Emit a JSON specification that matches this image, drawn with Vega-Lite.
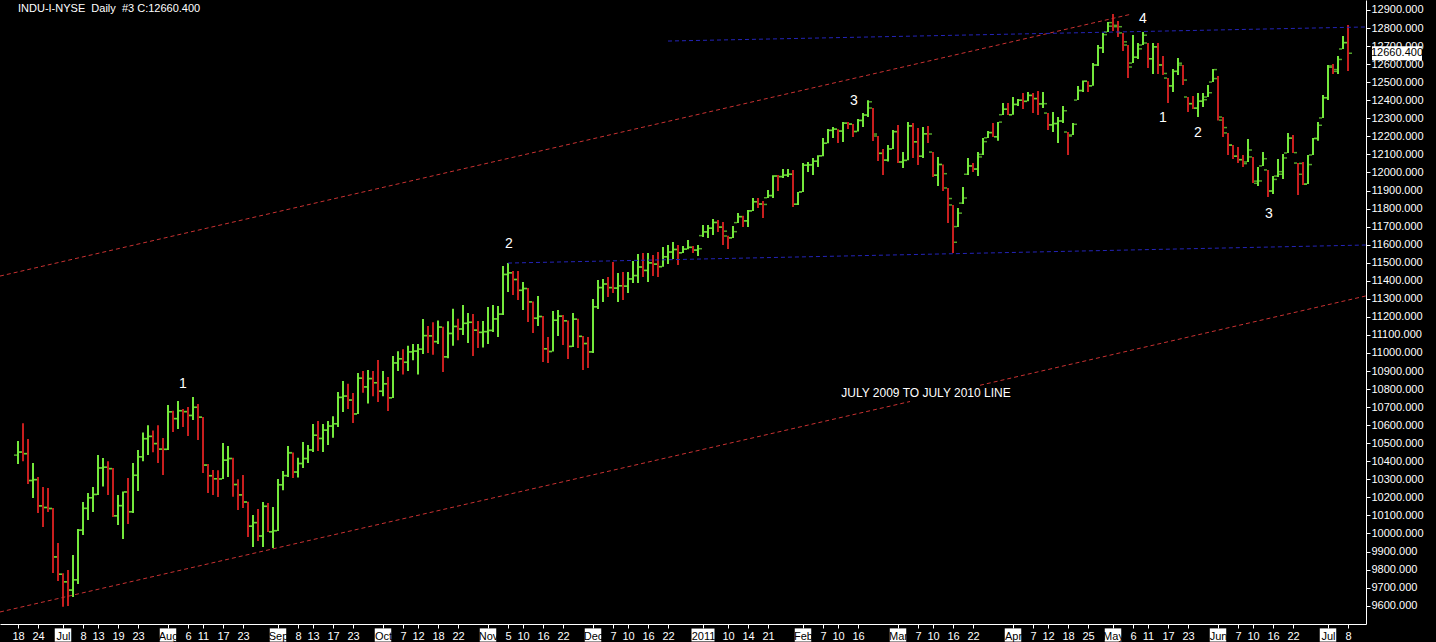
{
"$schema": "https://vega.github.io/schema/vega-lite/v6.json",
"width": 1366, "height": 624,
"autosize": "none",
"padding": {"left": 0, "top": 0, "right": 70, "bottom": 18},
"background": "black",
"config": {"view": {"stroke": null}, "axis": {"labelFont": "Liberation Sans", "grid": false, "title": null}, "text": {"font": "Liberation Sans"}},
"title": {"text": "INDU-I-NYSE\u00a0 Daily\u00a0 #3 C:12660.400", "anchor": "start", "frame": "group", "offset": -14, "dx": 18, "color": "white", "fontSize": 11, "fontWeight": "normal", "font": "Liberation Sans"},
"datasets": {
"bars": [
{"i":0,"d":"2010-06-18","o":10434,"h":10512,"l":10385,"c":10450.6},
{"i":1,"d":"2010-06-21","o":10451,"h":10610,"l":10400,"c":10442.4},
{"i":2,"d":"2010-06-22","o":10442,"h":10523,"l":10274,"c":10293.5},
{"i":3,"d":"2010-06-23","o":10293,"h":10390,"l":10196,"c":10298.4},
{"i":4,"d":"2010-06-24","o":10298,"h":10313,"l":10113,"c":10152.8},
{"i":5,"d":"2010-06-25","o":10153,"h":10257,"l":10036,"c":10143.8},
{"i":6,"d":"2010-06-28","o":10144,"h":10252,"l":10119,"c":10138.5},
{"i":7,"d":"2010-06-29","o":10138,"h":10141,"l":9781,"c":9870.3},
{"i":8,"d":"2010-06-30","o":9870,"h":9947,"l":9737,"c":9774.0},
{"i":9,"d":"2010-07-01","o":9774,"h":9780,"l":9594,"c":9732.5},
{"i":10,"d":"2010-07-02","o":9732,"h":9798,"l":9598,"c":9686.5},
{"i":11,"d":"2010-07-06","o":9686,"h":9881,"l":9648,"c":9743.6},
{"i":12,"d":"2010-07-07","o":9743,"h":10025,"l":9720,"c":10018.3},
{"i":13,"d":"2010-07-08","o":10018,"h":10174,"l":9991,"c":10139.0},
{"i":14,"d":"2010-07-09","o":10139,"h":10224,"l":10075,"c":10198.0},
{"i":15,"d":"2010-07-12","o":10198,"h":10257,"l":10119,"c":10216.3},
{"i":16,"d":"2010-07-13","o":10216,"h":10435,"l":10213,"c":10363.0},
{"i":17,"d":"2010-07-14","o":10363,"h":10418,"l":10260,"c":10366.7},
{"i":18,"d":"2010-07-15","o":10367,"h":10400,"l":10213,"c":10359.3},
{"i":19,"d":"2010-07-16","o":10359,"h":10362,"l":10091,"c":10097.9},
{"i":20,"d":"2010-07-19","o":10098,"h":10213,"l":10047,"c":10154.4},
{"i":21,"d":"2010-07-20","o":10154,"h":10232,"l":9969,"c":10230.0},
{"i":22,"d":"2010-07-21","o":10230,"h":10307,"l":10053,"c":10120.5},
{"i":23,"d":"2010-07-22","o":10120,"h":10390,"l":10113,"c":10322.3},
{"i":24,"d":"2010-07-23","o":10322,"h":10462,"l":10235,"c":10424.6},
{"i":25,"d":"2010-07-26","o":10425,"h":10560,"l":10400,"c":10525.4},
{"i":26,"d":"2010-07-27","o":10525,"h":10600,"l":10435,"c":10537.7},
{"i":27,"d":"2010-07-28","o":10538,"h":10570,"l":10450,"c":10497.9},
{"i":28,"d":"2010-07-29","o":10498,"h":10600,"l":10390,"c":10467.2},
{"i":29,"d":"2010-07-30","o":10467,"h":10529,"l":10324,"c":10465.9},
{"i":30,"d":"2010-08-02","o":10466,"h":10712,"l":10462,"c":10674.4},
{"i":31,"d":"2010-08-03","o":10674,"h":10680,"l":10562,"c":10636.4},
{"i":32,"d":"2010-08-04","o":10636,"h":10734,"l":10579,"c":10680.4},
{"i":33,"d":"2010-08-05","o":10680,"h":10690,"l":10590,"c":10675.0},
{"i":34,"d":"2010-08-06","o":10675,"h":10700,"l":10540,"c":10653.6},
{"i":35,"d":"2010-08-09","o":10654,"h":10756,"l":10629,"c":10698.8},
{"i":36,"d":"2010-08-10","o":10699,"h":10717,"l":10518,"c":10644.3},
{"i":37,"d":"2010-08-11","o":10644,"h":10645,"l":10335,"c":10378.8},
{"i":38,"d":"2010-08-12","o":10379,"h":10385,"l":10224,"c":10320.0},
{"i":39,"d":"2010-08-13","o":10320,"h":10352,"l":10213,"c":10303.2},
{"i":40,"d":"2010-08-16","o":10303,"h":10350,"l":10202,"c":10302.0},
{"i":41,"d":"2010-08-17","o":10302,"h":10501,"l":10302,"c":10405.9},
{"i":42,"d":"2010-08-18","o":10406,"h":10485,"l":10313,"c":10415.5},
{"i":43,"d":"2010-08-19","o":10415,"h":10420,"l":10204,"c":10271.2},
{"i":44,"d":"2010-08-20","o":10271,"h":10300,"l":10130,"c":10213.6},
{"i":45,"d":"2010-08-23","o":10214,"h":10324,"l":10141,"c":10174.4},
{"i":46,"d":"2010-08-24","o":10174,"h":10175,"l":9981,"c":10040.5},
{"i":47,"d":"2010-08-25","o":10040,"h":10102,"l":9925,"c":10060.1},
{"i":48,"d":"2010-08-26","o":10060,"h":10136,"l":9958,"c":9985.8},
{"i":49,"d":"2010-08-27","o":9986,"h":10174,"l":9925,"c":10150.7},
{"i":50,"d":"2010-08-30","o":10150,"h":10169,"l":10008,"c":10009.7},
{"i":51,"d":"2010-08-31","o":10009,"h":10147,"l":9919,"c":10014.7},
{"i":52,"d":"2010-09-01","o":10016,"h":10302,"l":10014,"c":10269.5},
{"i":53,"d":"2010-09-02","o":10270,"h":10346,"l":10240,"c":10320.1},
{"i":54,"d":"2010-09-03","o":10321,"h":10485,"l":10313,"c":10447.9},
{"i":55,"d":"2010-09-07","o":10446,"h":10448,"l":10307,"c":10340.7},
{"i":56,"d":"2010-09-08","o":10340,"h":10420,"l":10310,"c":10387.0},
{"i":57,"d":"2010-09-09","o":10388,"h":10507,"l":10363,"c":10415.2},
{"i":58,"d":"2010-09-10","o":10415,"h":10490,"l":10390,"c":10462.8},
{"i":59,"d":"2010-09-13","o":10463,"h":10606,"l":10451,"c":10544.1},
{"i":60,"d":"2010-09-14","o":10544,"h":10623,"l":10457,"c":10526.5},
{"i":61,"d":"2010-09-15","o":10526,"h":10606,"l":10451,"c":10572.7},
{"i":62,"d":"2010-09-16","o":10572,"h":10623,"l":10490,"c":10594.8},
{"i":63,"d":"2010-09-17","o":10595,"h":10650,"l":10530,"c":10607.9},
{"i":64,"d":"2010-09-20","o":10608,"h":10784,"l":10590,"c":10753.6},
{"i":65,"d":"2010-09-21","o":10754,"h":10845,"l":10673,"c":10761.0},
{"i":66,"d":"2010-09-22","o":10761,"h":10830,"l":10690,"c":10739.3},
{"i":67,"d":"2010-09-23","o":10739,"h":10778,"l":10612,"c":10662.4},
{"i":68,"d":"2010-09-24","o":10662,"h":10889,"l":10662,"c":10860.3},
{"i":69,"d":"2010-09-27","o":10860,"h":10900,"l":10780,"c":10812.0},
{"i":70,"d":"2010-09-28","o":10812,"h":10905,"l":10720,"c":10858.1},
{"i":71,"d":"2010-09-29","o":10858,"h":10900,"l":10760,"c":10835.3},
{"i":72,"d":"2010-09-30","o":10835,"h":10961,"l":10728,"c":10788.0},
{"i":73,"d":"2010-10-01","o":10788,"h":10900,"l":10760,"c":10829.7},
{"i":74,"d":"2010-10-04","o":10829,"h":10867,"l":10679,"c":10751.3},
{"i":75,"d":"2010-10-05","o":10752,"h":10983,"l":10750,"c":10944.7},
{"i":76,"d":"2010-10-06","o":10945,"h":11010,"l":10900,"c":10967.7},
{"i":77,"d":"2010-10-07","o":10968,"h":11020,"l":10880,"c":10948.6},
{"i":78,"d":"2010-10-08","o":10948,"h":11040,"l":10900,"c":11006.5},
{"i":79,"d":"2010-10-11","o":11006,"h":11050,"l":10960,"c":11010.3},
{"i":80,"d":"2010-10-12","o":11010,"h":11050,"l":10880,"c":11020.4},
{"i":81,"d":"2010-10-13","o":11021,"h":11188,"l":10994,"c":11096.1},
{"i":82,"d":"2010-10-14","o":11096,"h":11150,"l":11000,"c":11094.6},
{"i":83,"d":"2010-10-15","o":11095,"h":11170,"l":10990,"c":11062.8},
{"i":84,"d":"2010-10-18","o":11063,"h":11180,"l":11050,"c":11143.7},
{"i":85,"d":"2010-10-19","o":11143,"h":11145,"l":10894,"c":10978.6},
{"i":86,"d":"2010-10-20","o":10979,"h":11175,"l":10970,"c":11108.0},
{"i":87,"d":"2010-10-21","o":11108,"h":11245,"l":11040,"c":11146.6},
{"i":88,"d":"2010-10-22","o":11147,"h":11190,"l":11070,"c":11132.6},
{"i":89,"d":"2010-10-25","o":11133,"h":11266,"l":11100,"c":11164.1},
{"i":90,"d":"2010-10-26","o":11164,"h":11221,"l":11055,"c":11169.5},
{"i":91,"d":"2010-10-27","o":11170,"h":11216,"l":10983,"c":11126.3},
{"i":92,"d":"2010-10-28","o":11126,"h":11177,"l":11027,"c":11114.0},
{"i":93,"d":"2010-10-29","o":11114,"h":11177,"l":11030,"c":11118.5},
{"i":94,"d":"2010-11-01","o":11118,"h":11255,"l":11050,"c":11124.6},
{"i":95,"d":"2010-11-02","o":11125,"h":11266,"l":11116,"c":11188.7},
{"i":96,"d":"2010-11-03","o":11189,"h":11260,"l":11088,"c":11215.1},
{"i":97,"d":"2010-11-04","o":11215,"h":11482,"l":11210,"c":11434.8},
{"i":98,"d":"2010-11-05","o":11435,"h":11498,"l":11338,"c":11444.1},
{"i":99,"d":"2010-11-08","o":11444,"h":11454,"l":11321,"c":11406.8},
{"i":100,"d":"2010-11-09","o":11407,"h":11454,"l":11293,"c":11346.8},
{"i":101,"d":"2010-11-10","o":11347,"h":11393,"l":11238,"c":11357.0},
{"i":102,"d":"2010-11-11","o":11357,"h":11360,"l":11172,"c":11283.1},
{"i":103,"d":"2010-11-12","o":11283,"h":11285,"l":11110,"c":11192.6},
{"i":104,"d":"2010-11-15","o":11192,"h":11316,"l":11150,"c":11202.0},
{"i":105,"d":"2010-11-16","o":11202,"h":11205,"l":10950,"c":11023.5},
{"i":106,"d":"2010-11-17","o":11023,"h":11089,"l":10944,"c":11007.9},
{"i":107,"d":"2010-11-18","o":11008,"h":11233,"l":11008,"c":11181.2},
{"i":108,"d":"2010-11-19","o":11181,"h":11238,"l":11094,"c":11203.6},
{"i":109,"d":"2010-11-22","o":11204,"h":11210,"l":11044,"c":11178.6},
{"i":110,"d":"2010-11-23","o":11178,"h":11180,"l":10967,"c":11036.4},
{"i":111,"d":"2010-11-24","o":11036,"h":11221,"l":11033,"c":11187.3},
{"i":112,"d":"2010-11-26","o":11187,"h":11190,"l":11027,"c":11092.0},
{"i":113,"d":"2010-11-29","o":11092,"h":11094,"l":10906,"c":11052.5},
{"i":114,"d":"2010-11-30","o":11052,"h":11089,"l":10917,"c":11006.0},
{"i":115,"d":"2010-12-01","o":11006,"h":11299,"l":11000,"c":11255.8},
{"i":116,"d":"2010-12-02","o":11256,"h":11404,"l":11244,"c":11362.4},
{"i":117,"d":"2010-12-03","o":11362,"h":11410,"l":11282,"c":11382.1},
{"i":118,"d":"2010-12-06","o":11382,"h":11421,"l":11310,"c":11362.2},
{"i":119,"d":"2010-12-07","o":11362,"h":11504,"l":11332,"c":11359.2},
{"i":120,"d":"2010-12-08","o":11359,"h":11443,"l":11282,"c":11372.5},
{"i":121,"d":"2010-12-09","o":11372,"h":11448,"l":11293,"c":11370.1},
{"i":122,"d":"2010-12-10","o":11370,"h":11448,"l":11332,"c":11410.3},
{"i":123,"d":"2010-12-13","o":11410,"h":11509,"l":11388,"c":11428.6},
{"i":124,"d":"2010-12-14","o":11429,"h":11548,"l":11388,"c":11476.5},
{"i":125,"d":"2010-12-15","o":11476,"h":11554,"l":11421,"c":11457.5},
{"i":126,"d":"2010-12-16","o":11457,"h":11554,"l":11393,"c":11499.3},
{"i":127,"d":"2010-12-17","o":11499,"h":11543,"l":11426,"c":11491.9},
{"i":128,"d":"2010-12-20","o":11492,"h":11559,"l":11421,"c":11478.1},
{"i":129,"d":"2010-12-21","o":11478,"h":11587,"l":11478,"c":11533.2},
{"i":130,"d":"2010-12-22","o":11533,"h":11598,"l":11493,"c":11559.5},
{"i":131,"d":"2010-12-23","o":11559,"h":11615,"l":11521,"c":11573.5},
{"i":132,"d":"2010-12-27","o":11573,"h":11598,"l":11487,"c":11555.0},
{"i":133,"d":"2010-12-28","o":11555,"h":11593,"l":11554,"c":11575.5},
{"i":134,"d":"2010-12-29","o":11575,"h":11626,"l":11575,"c":11585.4},
{"i":135,"d":"2010-12-30","o":11585,"h":11593,"l":11554,"c":11569.7},
{"i":136,"d":"2010-12-31","o":11570,"h":11598,"l":11537,"c":11577.5},
{"i":137,"d":"2011-01-03","o":11650,"h":11709,"l":11642,"c":11670.8},
{"i":138,"d":"2011-01-04","o":11671,"h":11709,"l":11637,"c":11691.2},
{"i":139,"d":"2011-01-05","o":11691,"h":11742,"l":11653,"c":11722.9},
{"i":140,"d":"2011-01-06","o":11723,"h":11737,"l":11670,"c":11697.3},
{"i":141,"d":"2011-01-07","o":11697,"h":11726,"l":11598,"c":11674.8},
{"i":142,"d":"2011-01-10","o":11648,"h":11650,"l":11576,"c":11637.5},
{"i":143,"d":"2011-01-11","o":11638,"h":11703,"l":11637,"c":11671.9},
{"i":144,"d":"2011-01-12","o":11722,"h":11775,"l":11720,"c":11755.4},
{"i":145,"d":"2011-01-13","o":11755,"h":11760,"l":11698,"c":11731.9},
{"i":146,"d":"2011-01-14","o":11732,"h":11792,"l":11698,"c":11787.4},
{"i":147,"d":"2011-01-18","o":11787,"h":11859,"l":11786,"c":11837.9},
{"i":148,"d":"2011-01-19","o":11838,"h":11859,"l":11803,"c":11825.3},
{"i":149,"d":"2011-01-20","o":11825,"h":11842,"l":11748,"c":11822.8},
{"i":150,"d":"2011-01-21","o":11860,"h":11903,"l":11859,"c":11871.8},
{"i":151,"d":"2011-01-24","o":11872,"h":11985,"l":11859,"c":11980.5},
{"i":152,"d":"2011-01-25","o":11980,"h":11986,"l":11897,"c":11977.2},
{"i":153,"d":"2011-01-26","o":11977,"h":12019,"l":11969,"c":11985.4},
{"i":154,"d":"2011-01-27","o":11985,"h":12019,"l":11975,"c":11989.8},
{"i":155,"d":"2011-01-28","o":11990,"h":12014,"l":11809,"c":11823.7},
{"i":156,"d":"2011-01-31","o":11824,"h":11892,"l":11820,"c":11891.9},
{"i":157,"d":"2011-02-01","o":11892,"h":12052,"l":11892,"c":12040.2},
{"i":158,"d":"2011-02-02","o":12040,"h":12058,"l":12003,"c":12042.0},
{"i":159,"d":"2011-02-03","o":12042,"h":12080,"l":11986,"c":12062.3},
{"i":160,"d":"2011-02-04","o":12062,"h":12095,"l":12030,"c":12092.2},
{"i":161,"d":"2011-02-07","o":12092,"h":12191,"l":12090,"c":12161.6},
{"i":162,"d":"2011-02-08","o":12162,"h":12241,"l":12162,"c":12233.2},
{"i":163,"d":"2011-02-09","o":12233,"h":12252,"l":12191,"c":12239.9},
{"i":164,"d":"2011-02-10","o":12240,"h":12240,"l":12163,"c":12229.3},
{"i":165,"d":"2011-02-11","o":12229,"h":12280,"l":12169,"c":12273.3},
{"i":166,"d":"2011-02-14","o":12273,"h":12280,"l":12241,"c":12268.2},
{"i":167,"d":"2011-02-15","o":12268,"h":12268,"l":12197,"c":12226.6},
{"i":168,"d":"2011-02-16","o":12227,"h":12296,"l":12227,"c":12288.2},
{"i":169,"d":"2011-02-17","o":12288,"h":12329,"l":12252,"c":12318.1},
{"i":170,"d":"2011-02-18","o":12318,"h":12400,"l":12307,"c":12391.3},
{"i":171,"d":"2011-02-22","o":12357,"h":12357,"l":12174,"c":12212.8},
{"i":172,"d":"2011-02-23","o":12202,"h":12202,"l":12063,"c":12105.8},
{"i":173,"d":"2011-02-24","o":12106,"h":12130,"l":11986,"c":12068.5},
{"i":174,"d":"2011-02-25","o":12068,"h":12152,"l":12060,"c":12130.5},
{"i":175,"d":"2011-02-28","o":12130,"h":12235,"l":12130,"c":12226.3},
{"i":176,"d":"2011-03-01","o":12226,"h":12263,"l":12052,"c":12058.0},
{"i":177,"d":"2011-03-02","o":12058,"h":12113,"l":12025,"c":12066.8},
{"i":178,"d":"2011-03-03","o":12067,"h":12280,"l":12067,"c":12258.2},
{"i":179,"d":"2011-03-04","o":12258,"h":12274,"l":12080,"c":12169.9},
{"i":180,"d":"2011-03-07","o":12170,"h":12246,"l":12041,"c":12090.0},
{"i":181,"d":"2011-03-08","o":12090,"h":12252,"l":12080,"c":12214.4},
{"i":182,"d":"2011-03-09","o":12214,"h":12257,"l":12163,"c":12213.1},
{"i":183,"d":"2011-03-10","o":12113,"h":12113,"l":11975,"c":11984.6},
{"i":184,"d":"2011-03-11","o":11985,"h":12086,"l":11925,"c":12044.4},
{"i":185,"d":"2011-03-14","o":12044,"h":12044,"l":11897,"c":11993.2},
{"i":186,"d":"2011-03-15","o":11914,"h":11914,"l":11720,"c":11855.4},
{"i":187,"d":"2011-03-16","o":11820,"h":11820,"l":11554,"c":11613.3},
{"i":188,"d":"2011-03-17","o":11700,"h":11803,"l":11698,"c":11774.6},
{"i":189,"d":"2011-03-18","o":11830,"h":11920,"l":11825,"c":11858.5},
{"i":190,"d":"2011-03-21","o":11990,"h":12080,"l":11986,"c":12036.5},
{"i":191,"d":"2011-03-22","o":12036,"h":12052,"l":12003,"c":12018.6},
{"i":192,"d":"2011-03-23","o":12019,"h":12113,"l":11980,"c":12086.0},
{"i":193,"d":"2011-03-24","o":12100,"h":12191,"l":12097,"c":12170.6},
{"i":194,"d":"2011-03-25","o":12192,"h":12230,"l":12191,"c":12220.6},
{"i":195,"d":"2011-03-28","o":12221,"h":12274,"l":12197,"c":12197.9},
{"i":196,"d":"2011-03-29","o":12198,"h":12280,"l":12175,"c":12279.0},
{"i":197,"d":"2011-03-30","o":12320,"h":12385,"l":12318,"c":12350.6},
{"i":198,"d":"2011-03-31","o":12350,"h":12385,"l":12318,"c":12319.7},
{"i":199,"d":"2011-04-01","o":12320,"h":12418,"l":12320,"c":12376.7},
{"i":200,"d":"2011-04-04","o":12377,"h":12407,"l":12368,"c":12400.0},
{"i":201,"d":"2011-04-05","o":12400,"h":12440,"l":12351,"c":12393.9},
{"i":202,"d":"2011-04-06","o":12394,"h":12446,"l":12394,"c":12426.8},
{"i":203,"d":"2011-04-07","o":12427,"h":12440,"l":12329,"c":12409.5},
{"i":204,"d":"2011-04-08","o":12409,"h":12451,"l":12318,"c":12380.0},
{"i":205,"d":"2011-04-11","o":12380,"h":12446,"l":12357,"c":12381.1},
{"i":206,"d":"2011-04-12","o":12329,"h":12329,"l":12235,"c":12263.6},
{"i":207,"d":"2011-04-13","o":12264,"h":12335,"l":12224,"c":12271.0},
{"i":208,"d":"2011-04-14","o":12271,"h":12307,"l":12163,"c":12285.2},
{"i":209,"d":"2011-04-15","o":12285,"h":12368,"l":12274,"c":12341.8},
{"i":210,"d":"2011-04-18","o":12224,"h":12224,"l":12097,"c":12201.6},
{"i":211,"d":"2011-04-19","o":12208,"h":12274,"l":12208,"c":12266.8},
{"i":212,"d":"2011-04-20","o":12401,"h":12479,"l":12401,"c":12453.5},
{"i":213,"d":"2011-04-21","o":12454,"h":12510,"l":12446,"c":12506.0},
{"i":214,"d":"2011-04-25","o":12505,"h":12505,"l":12446,"c":12479.9},
{"i":215,"d":"2011-04-26","o":12480,"h":12606,"l":12480,"c":12595.4},
{"i":216,"d":"2011-04-27","o":12595,"h":12706,"l":12590,"c":12691.0},
{"i":217,"d":"2011-04-28","o":12691,"h":12773,"l":12662,"c":12763.3},
{"i":218,"d":"2011-04-29","o":12778,"h":12834,"l":12778,"c":12810.5},
{"i":219,"d":"2011-05-02","o":12830,"h":12878,"l":12784,"c":12807.4},
{"i":220,"d":"2011-05-03","o":12815,"h":12839,"l":12750,"c":12807.5},
{"i":221,"d":"2011-05-04","o":12773,"h":12773,"l":12673,"c":12723.6},
{"i":222,"d":"2011-05-05","o":12706,"h":12706,"l":12523,"c":12584.2},
{"i":223,"d":"2011-05-06","o":12606,"h":12761,"l":12606,"c":12638.7},
{"i":224,"d":"2011-05-09","o":12638,"h":12717,"l":12628,"c":12684.7},
{"i":225,"d":"2011-05-10","o":12706,"h":12778,"l":12706,"c":12760.4},
{"i":226,"d":"2011-05-11","o":12717,"h":12717,"l":12579,"c":12630.0},
{"i":227,"d":"2011-05-12","o":12630,"h":12717,"l":12545,"c":12695.9},
{"i":228,"d":"2011-05-13","o":12696,"h":12717,"l":12545,"c":12595.8},
{"i":229,"d":"2011-05-16","o":12595,"h":12645,"l":12540,"c":12548.4},
{"i":230,"d":"2011-05-17","o":12523,"h":12523,"l":12385,"c":12479.6},
{"i":231,"d":"2011-05-18","o":12480,"h":12573,"l":12446,"c":12560.2},
{"i":232,"d":"2011-05-19","o":12560,"h":12634,"l":12540,"c":12605.3},
{"i":233,"d":"2011-05-20","o":12595,"h":12595,"l":12485,"c":12512.0},
{"i":234,"d":"2011-05-23","o":12418,"h":12418,"l":12335,"c":12381.3},
{"i":235,"d":"2011-05-24","o":12381,"h":12424,"l":12351,"c":12356.2},
{"i":236,"d":"2011-05-25","o":12356,"h":12440,"l":12307,"c":12394.7},
{"i":237,"d":"2011-05-26","o":12395,"h":12440,"l":12363,"c":12402.8},
{"i":238,"d":"2011-05-27","o":12418,"h":12485,"l":12418,"c":12441.6},
{"i":239,"d":"2011-05-31","o":12501,"h":12573,"l":12501,"c":12569.8},
{"i":240,"d":"2011-06-01","o":12520,"h":12534,"l":12288,"c":12290.1},
{"i":241,"d":"2011-06-02","o":12307,"h":12307,"l":12197,"c":12248.6},
{"i":242,"d":"2011-06-03","o":12219,"h":12219,"l":12097,"c":12151.3},
{"i":243,"d":"2011-06-06","o":12152,"h":12152,"l":12075,"c":12090.0},
{"i":244,"d":"2011-06-07","o":12090,"h":12141,"l":12052,"c":12070.8},
{"i":245,"d":"2011-06-08","o":12071,"h":12097,"l":12030,"c":12048.9},
{"i":246,"d":"2011-06-09","o":12058,"h":12185,"l":12058,"c":12124.4},
{"i":247,"d":"2011-06-10","o":12086,"h":12086,"l":11942,"c":11951.9},
{"i":248,"d":"2011-06-13","o":11940,"h":12030,"l":11925,"c":11953.0},
{"i":249,"d":"2011-06-14","o":12036,"h":12113,"l":12036,"c":12076.1},
{"i":250,"d":"2011-06-15","o":12014,"h":12014,"l":11864,"c":11897.3},
{"i":251,"d":"2011-06-16","o":11897,"h":11980,"l":11881,"c":11961.5},
{"i":252,"d":"2011-06-17","o":11980,"h":12075,"l":11975,"c":12004.4},
{"i":253,"d":"2011-06-20","o":11990,"h":12102,"l":11964,"c":12080.4},
{"i":254,"d":"2011-06-21","o":12108,"h":12219,"l":12108,"c":12190.0},
{"i":255,"d":"2011-06-22","o":12190,"h":12208,"l":12108,"c":12109.7},
{"i":256,"d":"2011-06-23","o":12052,"h":12052,"l":11875,"c":11990.0},
{"i":257,"d":"2011-06-24","o":12050,"h":12058,"l":11930,"c":11934.6},
{"i":258,"d":"2011-06-27","o":11936,"h":12097,"l":11936,"c":12043.6},
{"i":259,"d":"2011-06-28","o":12097,"h":12191,"l":12097,"c":12188.7},
{"i":260,"d":"2011-06-29","o":12188,"h":12280,"l":12175,"c":12261.4},
{"i":261,"d":"2011-06-30","o":12302,"h":12429,"l":12302,"c":12414.3},
{"i":262,"d":"2011-07-01","o":12414,"h":12595,"l":12401,"c":12582.8},
{"i":263,"d":"2011-07-05","o":12590,"h":12601,"l":12545,"c":12569.9},
{"i":264,"d":"2011-07-06","o":12560,"h":12645,"l":12545,"c":12626.0},
{"i":265,"d":"2011-07-07","o":12684,"h":12756,"l":12684,"c":12719.5},
{"i":266,"d":"2011-07-08","o":12719,"h":12817,"l":12562,"c":12660.4}
],
"lines": [
{"seg":"upper","kind":"channel","i":-3.6,"v":11426},
{"seg":"upper","kind":"channel","i":222.8,"v":12878},
{"seg":"lower1","kind":"channel","i":-3.6,"v":9565},
{"seg":"lower1","kind":"channel","i":178.4,"v":10731},
{"seg":"lower2","kind":"channel","i":192.4,"v":10821},
{"seg":"lower2","kind":"channel","i":269.6,"v":11316},
{"seg":"top","kind":"level","i":130,"v":12728},
{"seg":"top","kind":"level","i":269.6,"v":12806},
{"seg":"base","kind":"level","i":98,"v":11498},
{"seg":"base","kind":"level","i":269.6,"v":11598}
],
"notes": [
{"i":33,"v":10828,"t":"1"},
{"i":98.2,"v":11604,"t":"2"},
{"i":167.2,"v":12396,"t":"3"},
{"i":225,"v":12850,"t":"4"},
{"i":229,"v":12302,"t":"1"},
{"i":236,"v":12219,"t":"2"},
{"i":250.2,"v":11770,"t":"3"},
{"i":181.6,"v":10778,"t":"JULY 2009 TO JULY 2010 LINE"}
],
"months": [{"i":9},{"i":30},{"i":52},{"i":73},{"i":94},{"i":115},{"i":137},{"i":157},{"i":176},{"i":199},{"i":219},{"i":240},{"i":262}],
"last": [{"i":266,"v":12660.4,"t":"12660.400"}]
},
"encoding": {
"x": {"field": "i", "type": "quantitative", "scale": {"domain": [-3.6, 269.6], "nice": false, "zero": false},
 "axis": {"orient": "bottom", "title": null, "grid": false, "zindex": 1,
  "values": [0,4,9,13,16,20,24,30,34,37,41,45,52,56,59,63,67,73,77,80,84,88,94,98,101,105,109,115,119,122,126,130,137,142,146,150,157,161,164,168,176,180,183,187,191,199,203,206,210,214,219,223,226,230,234,240,244,247,251,255,262,266],
  "labelExpr": "['18','24','Jul','8','13','19','23','Aug','6','11','17','23','Sep','8','13','17','23','Oct','7','12','18','22','Nov','5','10','16','22','Dec','7','10','16','22','2011','10','14','21','Feb','7','10','16','Mar','7','10','16','22','Apr','7','12','18','25','May','6','11','17','23','Jun','7','10','16','22','Jul','8'][indexof([0,4,9,13,16,20,24,30,34,37,41,45,52,56,59,63,67,73,77,80,84,88,94,98,101,105,109,115,119,122,126,130,137,142,146,150,157,161,164,168,176,180,183,187,191,199,203,206,210,214,219,223,226,230,234,240,244,247,251,255,262,266], datum.value)]",
  "labelColor": {"condition": {"test": "indexof([9,30,52,73,94,115,137,157,176,199,219,240,262], datum.value) >= 0", "value": "black"}, "value": "white"},
  "labelFontSize": 11, "labelPadding": 2, "labelOverlap": false, "labelFlush": false,
  "domainColor": "white", "tickColor": "white", "tickSize": 4}}
},
"layer": [
{
"data": {"name": "bars"},
"mark": {"type": "rule", "strokeWidth": 2},
"encoding": {
"y": {"field": "l", "type": "quantitative", "scale": {"domain": [9498.4, 12955.4], "nice": false, "zero": false},
 "axis": {"orient": "right", "title": null, "grid": false, "zindex": 0, "values": [9600,9700,9800,9900,10000,10100,10200,10300,10400,10500,10600,10700,10800,10900,11000,11100,11200,11300,11400,11500,11600,11700,11800,11900,12000,12100,12200,12300,12400,12500,12600,12700,12800,12900], "format": ".3f", "labelColor": "white", "labelFontSize": 11, "labelPadding": 1, "labelOverlap": false, "labelFlush": false, "domainColor": "white", "tickColor": "white", "tickSize": 4}},
"y2": {"field": "h"},
"color": {"condition": {"test": "datum.c < datum.o", "value": "#c81e1e"}, "value": "#74e83c"}
}
},
{
"data": {"name": "bars"},
"mark": {"type": "tick", "orient": "horizontal", "size": 3, "thickness": 1.5, "xOffset": -2.5, "color": "#74e83c"},
"encoding": {
"y": {"field": "o", "type": "quantitative", "scale": {"domain": [9498.4, 12955.4], "nice": false, "zero": false},
 "axis": {"orient": "right", "title": null, "grid": false, "zindex": 0, "values": [9600,9700,9800,9900,10000,10100,10200,10300,10400,10500,10600,10700,10800,10900,11000,11100,11200,11300,11400,11500,11600,11700,11800,11900,12000,12100,12200,12300,12400,12500,12600,12700,12800,12900], "format": ".3f", "labelColor": "white", "labelFontSize": 11, "labelPadding": 1, "labelOverlap": false, "labelFlush": false, "domainColor": "white", "tickColor": "white", "tickSize": 4}}
}
},
{
"data": {"name": "bars"},
"mark": {"type": "tick", "orient": "horizontal", "size": 3, "thickness": 1.5, "xOffset": 2.5, "color": "#74e83c"},
"encoding": {
"y": {"field": "c", "type": "quantitative", "scale": {"domain": [9498.4, 12955.4], "nice": false, "zero": false},
 "axis": {"orient": "right", "title": null, "grid": false, "zindex": 0, "values": [9600,9700,9800,9900,10000,10100,10200,10300,10400,10500,10600,10700,10800,10900,11000,11100,11200,11300,11400,11500,11600,11700,11800,11900,12000,12100,12200,12300,12400,12500,12600,12700,12800,12900], "format": ".3f", "labelColor": "white", "labelFontSize": 11, "labelPadding": 1, "labelOverlap": false, "labelFlush": false, "domainColor": "white", "tickColor": "white", "tickSize": 4}}
}
},
{
"data": {"name": "lines"},
"mark": {"type": "line", "strokeWidth": 1, "strokeDash": [4, 3]},
"encoding": {
"y": {"field": "v", "type": "quantitative", "scale": {"domain": [9498.4, 12955.4], "nice": false, "zero": false},
 "axis": {"orient": "right", "title": null, "grid": false, "zindex": 0, "values": [9600,9700,9800,9900,10000,10100,10200,10300,10400,10500,10600,10700,10800,10900,11000,11100,11200,11300,11400,11500,11600,11700,11800,11900,12000,12100,12200,12300,12400,12500,12600,12700,12800,12900], "format": ".3f", "labelColor": "white", "labelFontSize": 11, "labelPadding": 1, "labelOverlap": false, "labelFlush": false, "domainColor": "white", "tickColor": "white", "tickSize": 4}},
"detail": {"field": "seg"},
"color": {"field": "kind", "type": "nominal", "scale": {"domain": ["channel", "level"], "range": ["#c83232", "#2424b8"]}, "legend": null}
}
},
{
"data": {"name": "notes"},
"mark": {"type": "text", "color": "white", "baseline": "middle", "align": "center", "font": "Liberation Sans"},
"encoding": {
"y": {"field": "v", "type": "quantitative", "scale": {"domain": [9498.4, 12955.4], "nice": false, "zero": false},
 "axis": {"orient": "right", "title": null, "grid": false, "zindex": 0, "values": [9600,9700,9800,9900,10000,10100,10200,10300,10400,10500,10600,10700,10800,10900,11000,11100,11200,11300,11400,11500,11600,11700,11800,11900,12000,12100,12200,12300,12400,12500,12600,12700,12800,12900], "format": ".3f", "labelColor": "white", "labelFontSize": 11, "labelPadding": 1, "labelOverlap": false, "labelFlush": false, "domainColor": "white", "tickColor": "white", "tickSize": 4}},
"text": {"field": "t"},
"size": {"condition": {"test": "length(datum.t) > 2", "value": 12}, "value": 14}
}
},
{
"data": {"name": "months"},
"mark": {"type": "point", "filled": true, "color": "white", "opacity": 1, "yOffset": 11, "clip": false},
"encoding": {
"y": {"datum": 9498.4, "type": "quantitative", "scale": {"domain": [9498.4, 12955.4], "nice": false, "zero": false},
 "axis": {"orient": "right", "title": null, "grid": false, "zindex": 0, "values": [9600,9700,9800,9900,10000,10100,10200,10300,10400,10500,10600,10700,10800,10900,11000,11100,11200,11300,11400,11500,11600,11700,11800,11900,12000,12100,12200,12300,12400,12500,12600,12700,12800,12900], "format": ".3f", "labelColor": "white", "labelFontSize": 11, "labelPadding": 1, "labelOverlap": false, "labelFlush": false, "domainColor": "white", "tickColor": "white", "tickSize": 4}},
"shape": {"condition": {"test": "datum.i == 137", "value": "M-1,-0.56H1V0.56H-1Z"}, "value": "M-1,-0.8H1V0.8H-1Z"},
"size": {"condition": {"test": "datum.i == 137", "value": 529}, "value": 272}
}
},
{
"data": {"name": "last"},
"mark": {"type": "point", "filled": true, "color": "white", "opacity": 1, "xOffset": 49, "shape": "M-1,-0.28H1V0.28H-1Z", "size": 2500, "clip": false},
"encoding": {
"y": {"field": "v", "type": "quantitative", "scale": {"domain": [9498.4, 12955.4], "nice": false, "zero": false},
 "axis": {"orient": "right", "title": null, "grid": false, "zindex": 0, "values": [9600,9700,9800,9900,10000,10100,10200,10300,10400,10500,10600,10700,10800,10900,11000,11100,11200,11300,11400,11500,11600,11700,11800,11900,12000,12100,12200,12300,12400,12500,12600,12700,12800,12900], "format": ".3f", "labelColor": "white", "labelFontSize": 11, "labelPadding": 1, "labelOverlap": false, "labelFlush": false, "domainColor": "white", "tickColor": "white", "tickSize": 4}}
}
},
{
"data": {"name": "last"},
"mark": {"type": "text", "color": "black", "dx": 49, "align": "center", "baseline": "middle", "fontSize": 11, "font": "Liberation Sans", "clip": false},
"encoding": {
"y": {"field": "v", "type": "quantitative", "scale": {"domain": [9498.4, 12955.4], "nice": false, "zero": false},
 "axis": {"orient": "right", "title": null, "grid": false, "zindex": 0, "values": [9600,9700,9800,9900,10000,10100,10200,10300,10400,10500,10600,10700,10800,10900,11000,11100,11200,11300,11400,11500,11600,11700,11800,11900,12000,12100,12200,12300,12400,12500,12600,12700,12800,12900], "format": ".3f", "labelColor": "white", "labelFontSize": 11, "labelPadding": 1, "labelOverlap": false, "labelFlush": false, "domainColor": "white", "tickColor": "white", "tickSize": 4}},
"text": {"field": "t"}
}
}
]
}
